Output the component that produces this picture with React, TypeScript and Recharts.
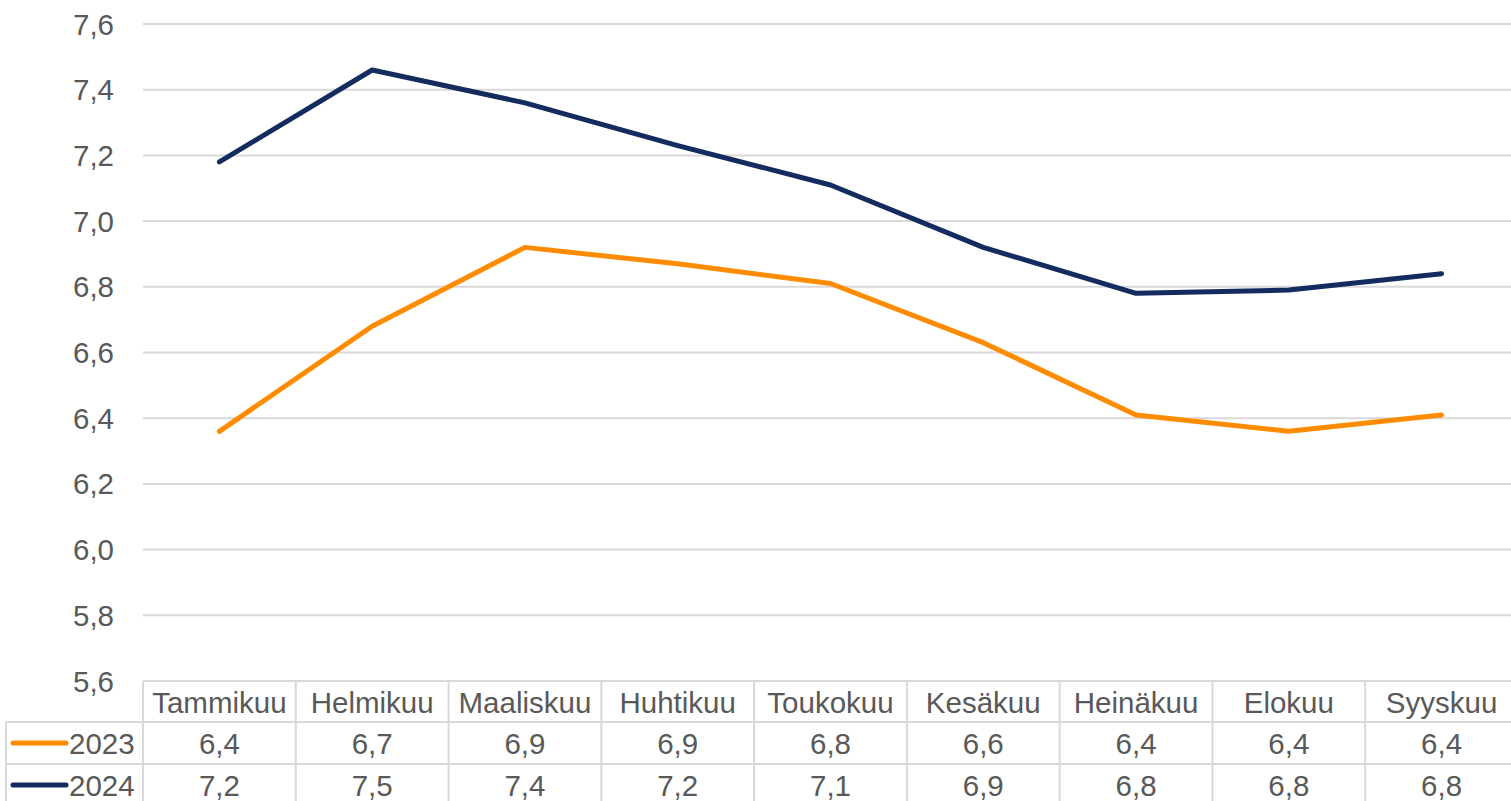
import { LineChart, Line, XAxis, YAxis, CartesianGrid } from "recharts";

const months = [
  "Tammikuu",
  "Helmikuu",
  "Maaliskuu",
  "Huhtikuu",
  "Toukokuu",
  "Kesäkuu",
  "Heinäkuu",
  "Elokuu",
  "Syyskuu",
];
const values2023 = [6.36, 6.68, 6.92, 6.87, 6.81, 6.63, 6.41, 6.36, 6.41];
const values2024 = [7.18, 7.46, 7.36, 7.23, 7.11, 6.92, 6.78, 6.79, 6.84];
const yTicks = [5.6, 5.8, 6.0, 6.2, 6.4, 6.6, 6.8, 7.0, 7.2, 7.4, 7.6];

const series = [
  { key: "y2023", name: "2023", color: "#FF8C00", values: values2023 },
  { key: "y2024", name: "2024", color: "#132B5E", values: values2024 },
];

const data = months.map((m, i) => ({
  month: m,
  y2023: values2023[i],
  y2024: values2024[i],
}));

// the plot runs a little past the right edge of the picture, as in the original
const W = 1511;
const CHART_W = 1518;
const H = 801;
const PLOT_LEFT = 143;
const BAND = (CHART_W - PLOT_LEFT) / months.length;
const TEXT = "#595959";
const BORDER = "#D9D9D9";
const FONT = "'Liberation Sans', Arial, sans-serif";
const FS = 29.5;

const fmt = (v: number) => v.toFixed(1).replace(".", ",");

function YTick({ x, y, payload }: any) {
  return (
    <text
      x={x - 29}
      y={y}
      textAnchor="end"
      dominantBaseline="central"
      fill={TEXT}
      fontSize={FS}
      fontFamily={FONT}
    >
      {fmt(payload.value)}
    </text>
  );
}

function TableTick({ x, y, payload, index }: any) {
  const left = x - BAND / 2;
  const right = x + BAND / 2;
  const rows = [y + 41, y + 83];
  return (
    <g>
      {/* cell borders */}
      <line x1={left} x2={right} y1={y} y2={y} stroke={BORDER} strokeWidth={2} />
      {rows.map((ry) => (
        <line key={ry} x1={left} x2={right} y1={ry} y2={ry} stroke={BORDER} strokeWidth={2} />
      ))}
      <line x1={right} x2={right} y1={y} y2={H} stroke={BORDER} strokeWidth={2} />
      {index === 0 && (
        <g>
          <line x1={left} x2={left} y1={y} y2={H} stroke={BORDER} strokeWidth={2} />
          <line x1={6} x2={6} y1={rows[0]} y2={H} stroke={BORDER} strokeWidth={2} />
          {rows.map((ry) => (
            <line key={ry} x1={6} x2={left} y1={ry} y2={ry} stroke={BORDER} strokeWidth={2} />
          ))}
          {series.map((s, i) => (
            <g key={s.key}>
              <line
                x1={13}
                x2={66}
                y1={y + 62 + i * 42}
                y2={y + 62 + i * 42}
                stroke={s.color}
                strokeWidth={5}
                strokeLinecap="round"
              />
              <text
                x={69}
                y={y + 62 + i * 42}
                dominantBaseline="central"
                fill={TEXT}
                fontSize={FS}
                fontFamily={FONT}
              >
                {s.name}
              </text>
            </g>
          ))}
        </g>
      )}
      <text
        x={x}
        y={y + 21}
        textAnchor="middle"
        dominantBaseline="central"
        fill={TEXT}
        fontSize={FS}
        fontFamily={FONT}
      >
        {payload.value}
      </text>
      {series.map((s, i) => (
        <text
          key={s.key}
          x={x}
          y={y + 62 + i * 42}
          textAnchor="middle"
          dominantBaseline="central"
          fill={TEXT}
          fontSize={FS}
          fontFamily={FONT}
        >
          {fmt(s.values[payload.index ?? index])}
        </text>
      ))}
    </g>
  );
}

export default function App() {
  return (
    <div
      style={{
        position: "absolute",
        left: 0,
        top: 0,
        width: W,
        height: H,
        overflow: "hidden",
        background: "#fff",
      }}
    >
      <LineChart
        width={CHART_W}
        height={H}
        data={data}
        margin={{ top: 24, right: 0, left: 0, bottom: 0 }}
      >
        <CartesianGrid vertical={false} stroke={BORDER} strokeWidth={2} />
        <XAxis
          dataKey="month"
          height={120}
          axisLine={false}
          tickLine={false}
          tickSize={0}
          tickMargin={0}
          interval={0}
          padding={{ left: BAND / 2, right: BAND / 2 }}
          tick={<TableTick />}
        />
        <YAxis
          width={PLOT_LEFT}
          domain={[5.6, 7.6]}
          ticks={yTicks}
          axisLine={false}
          tickLine={false}
          tickSize={0}
          tickMargin={0}
          tick={<YTick />}
        />
        {series.map((s) => (
          <Line
            key={s.key}
            type="linear"
            dataKey={s.key}
            name={s.name}
            stroke={s.color}
            strokeWidth={5}
            strokeLinecap="round"
            strokeLinejoin="round"
            dot={false}
            activeDot={false}
            isAnimationActive={false}
          />
        ))}
      </LineChart>
    </div>
  );
}
